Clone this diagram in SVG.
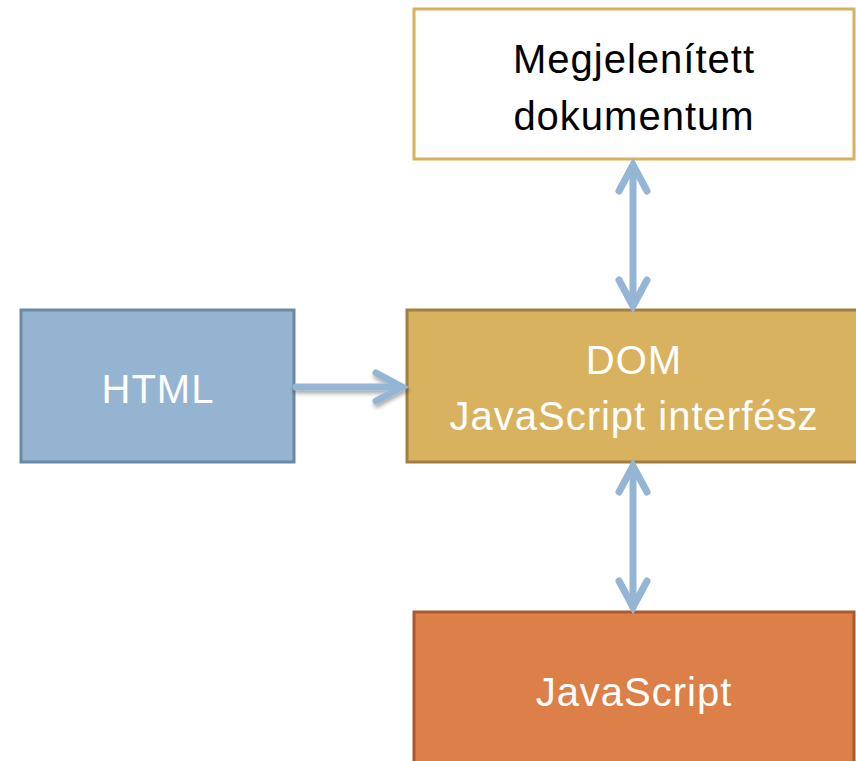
<svg xmlns="http://www.w3.org/2000/svg" width="856" height="761" viewBox="0 0 856 761">
<style>
.lbl{font-family:"Liberation Sans","DejaVu Sans",sans-serif;font-size:40px;letter-spacing:1px;text-anchor:middle}
.w{fill:#ffffff}
.k{fill:#000000}
.arr{fill:none;stroke:#94b6d4;stroke-width:7;stroke-linecap:round;stroke-linejoin:miter;stroke-miterlimit:10}
</style>
<defs>
<filter id="sh" x="-20%" y="-50%" width="140%" height="200%">
<feGaussianBlur in="SourceAlpha" stdDeviation="2"/>
<feOffset dx="1" dy="3" result="b"/>
<feComponentTransfer><feFuncA type="linear" slope="0.35"/></feComponentTransfer>
<feMerge><feMergeNode/><feMergeNode in="SourceGraphic"/></feMerge>
</filter>
</defs>
<g id="rendered">
<rect x="414" y="9" width="440" height="150" fill="#ffffff" stroke="#d8b05a" stroke-width="3"/>
<text class="lbl k" x="634" y="73">Megjelenített</text>
<text class="lbl k" x="634" y="130">dokumentum</text>
</g>
<g id="html">
<rect x="21" y="310" width="273" height="152" fill="#94b4d2" stroke="#6c89a3" stroke-width="3"/>
<text class="lbl w" x="158" y="403">HTML</text>
</g>
<g id="dom">
<rect x="407" y="310" width="452" height="152" fill="#d8b25e" stroke="#a08042" stroke-width="3"/>
<text class="lbl w" x="634" y="374">DOM</text>
<text class="lbl w" x="634" y="430">JavaScript interfész</text>
</g>
<g id="javascript">
<rect x="414" y="612" width="440" height="160" fill="#dd7f48" stroke="#a95a2f" stroke-width="3"/>
<text class="lbl w" x="634" y="706">JavaScript</text>
</g>
<g id="connectors">
<g filter="url(#sh)">
<path class="arr" d="M296 387 H401"/>
<polyline class="arr" points="376,373 402,387 376,401"/>
</g>
<path class="arr" d="M633 166 V305"/>
<polyline class="arr" points="619,191 633,165 647,191"/>
<polyline class="arr" points="619,280 633,306 647,280"/>
<path class="arr" d="M633 467 V607"/>
<polyline class="arr" points="619,492 633,466 647,492"/>
<polyline class="arr" points="619,581 633,607 647,581"/>
</g>
</svg>
